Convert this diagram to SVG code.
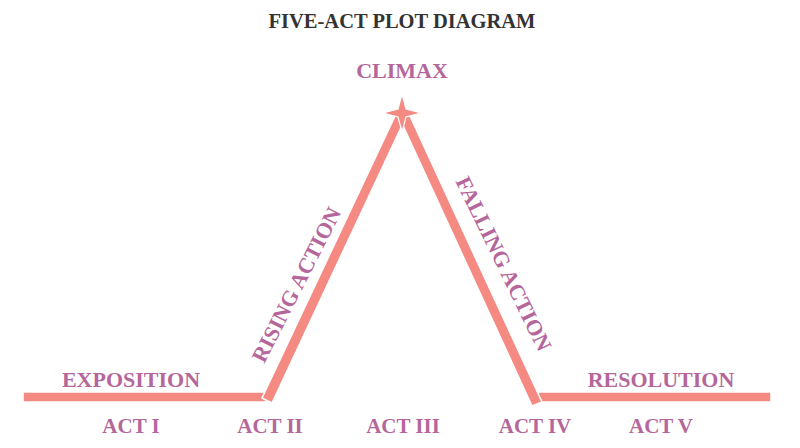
<svg xmlns="http://www.w3.org/2000/svg" width="800" height="448" viewBox="0 0 800 448">
<style>
.lbl{font-family:"Liberation Serif","Times New Roman",serif;font-weight:bold;fill:#b5669a;font-size:22px;text-anchor:middle}
.act{font-size:21px}
.title{font-family:"Liberation Serif","Times New Roman",serif;font-weight:bold;fill:#333;font-size:20.5px;text-anchor:middle}
.seg{fill:#f48a82;stroke:#fff;stroke-width:1.5}
</style>
<rect width="800" height="448" fill="#fff"/>
<text class="title" x="402" y="28">FIVE-ACT PLOT DIAGRAM</text>
<g id="connectors">
<polygon class="seg" points="23,392 266,392 266,402 23,402"/>
<polygon class="seg" points="538,392 771,392 771,402 538,402"/>
<polygon class="seg" points="262,398 272,403 405,119 396,114"/>
<polygon class="seg" points="400,119 409,114 542,402 532,406"/>
</g>
<g id="climax">
<path d="M402,94 L406,109 L421,113 L406,117 L402,132 L398,117 L383,113 L398,109 Z" fill="#f48a82" stroke="#fff" stroke-width="1.2"/>
<text class="lbl" x="402" y="78">CLIMAX</text>
</g>
<g id="exposition"><text class="lbl" x="131" y="387">EXPOSITION</text></g>
<g id="resolution"><text class="lbl" x="661" y="387">RESOLUTION</text></g>
<g id="rising"><text class="lbl" transform="translate(303,288) rotate(-63)">RISING ACTION</text></g>
<g id="falling"><text class="lbl" transform="translate(497,267) rotate(64)">FALLING ACTION</text></g>
<g id="acts">
<text class="lbl act" x="131" y="433">ACT I</text>
<text class="lbl act" x="270" y="433">ACT II</text>
<text class="lbl act" x="403" y="433">ACT III</text>
<text class="lbl act" x="535" y="433">ACT IV</text>
<text class="lbl act" x="661" y="433">ACT V</text>
</g>
</svg>
